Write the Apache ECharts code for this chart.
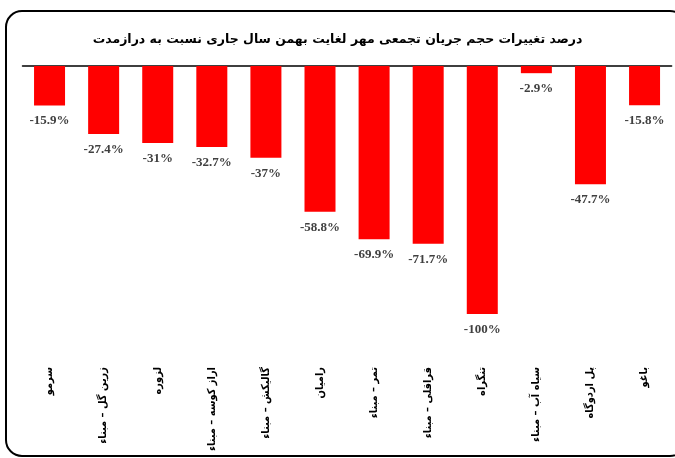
<!DOCTYPE html>
<html>
<head>
<meta charset="utf-8">
<script src="https://cdn.jsdelivr.net/npm/echarts@6/dist/echarts.min.js"></script>
<style>
  html, body { margin: 0; padding: 0; background: #fff; }
  #chart { width: 675px; height: 458px; }
</style>
</head>
<body>
<div id="chart"></div>
<script>
// data
const titleText = 'درصد تغییرات حجم جریان تجمعی مهر لغایت بهمن سال جاری نسبت به درازمدت'
const stations = [
  'سرمو', 'زرین گل – مبناء', 'لزوره', 'اراز کوسه – مبناء', 'گالیکش – مبناء', 'رامیان',
  'تمر – مبناء', 'قراقلی – مبناء', 'تنگراه', 'سیاه آب – مبناء', 'پل اردوگاه', 'باغو'
]
const changePct = [-15.9, -27.4, -31, -32.7, -37, -58.8, -69.9, -71.7, -100, -2.9, -47.7, -15.8]

const chart = echarts.init(document.getElementById('chart'))

const option = {
  animation: false,
  title: {
    text: titleText,
    left: 'center',
    top: 28,
    textStyle: {
      fontFamily: 'DejaVu Sans',
      fontSize: 12.5,
      fontWeight: 'bold',
      color: '#000'
    }
  },
  graphic: [
    {
      type: 'rect',
      shape: { x: 6, y: 11, width: 680, height: 445, r: 16 },
      style: { fill: 'none', stroke: '#000', lineWidth: 2 },
      z: 10
    }
  ],
  grid: {
    left: 22.5,
    right: 3.4,
    top: 66,
    bottom: 144,
    outerBoundsMode: 'none',
    containLabel: false
  },
  xAxis: [
    {
      type: 'category',
      position: 'bottom',
      data: stations,
      axisLine: { show: false },
      axisTick: { show: false },
      axisLabel: {
        interval: 0,
        rotate: 90,
        margin: 53,
        fontFamily: 'DejaVu Sans Condensed',
        fontSize: 11,
        fontWeight: 'bold',
        color: '#000'
      }
    },
    {
      type: 'category',
      position: 'top',
      data: stations,
      axisLine: { show: true, lineStyle: { color: '#000', width: 1.5 } },
      axisTick: { show: false },
      axisLabel: { show: false }
    }
  ],
  yAxis: {
    type: 'value',
    min: -100,
    max: 0,
    show: false,
    splitLine: { show: false }
  },
  series: [
    {
      type: 'bar',
      data: changePct,
      barWidth: 31,
      itemStyle: { color: '#ff0000' },
      label: {
        show: true,
        position: 'bottom',
        distance: 9,
        formatter: p => p.value + '%',
        fontFamily: 'Liberation Serif',
        fontSize: 13,
        fontWeight: 'bold',
        color: '#404040'
      }
    }
  ]
}

chart.setOption(option)
</script>
</body>
</html>
